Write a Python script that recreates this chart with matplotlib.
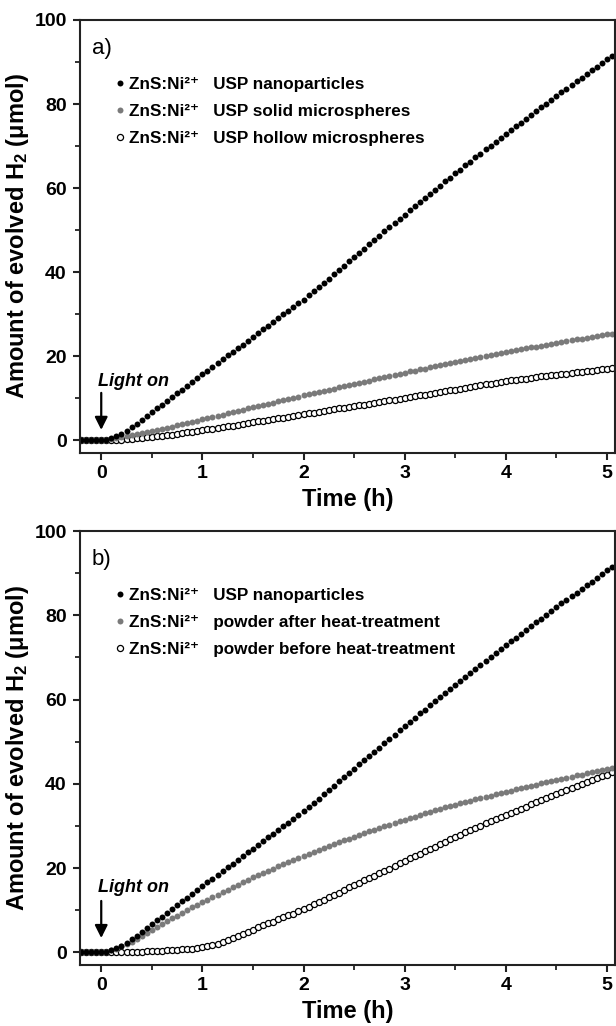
import numpy as np
import matplotlib
matplotlib.use("Agg")
import matplotlib.pyplot as plt
from matplotlib.ticker import MultipleLocator

plt.rcParams["font.family"] = ["Liberation Sans", "DejaVu Sans"]
plt.rcParams["mathtext.fontset"] = "custom"
plt.rcParams["mathtext.rm"] = "Liberation Sans:bold"
plt.rcParams["mathtext.bf"] = "Liberation Sans:bold"
plt.rcParams["mathtext.it"] = "Liberation Sans:bold:italic"

# sampling times (h), one point every 3 min
time_h = np.round(np.arange(-0.2, 5.051, 0.05), 2)

# H2 evolved (umol)
usp_nano = [
    0, 0, 0, 0, 0,
    0.2, 0.6, 1.1, 1.6, 2.2,
    3.1, 4.0, 4.9, 5.8, 6.7,
    7.6, 8.5, 9.4, 10.3, 11.2,
    12.1, 13.0, 13.9, 14.8, 15.7,
    16.6, 17.5, 18.4, 19.3, 20.2,
    21.0, 21.9, 22.8, 23.7, 24.6,
    25.5, 26.4, 27.3, 28.2, 29.1,
    30.0, 30.8, 31.7, 32.6, 33.5,
    34.5, 35.5, 36.5, 37.5, 38.5,
    39.6, 40.6, 41.6, 42.6, 43.6,
    44.6, 45.6, 46.6, 47.6, 48.6,
    49.7, 50.7, 51.7, 52.7, 53.7,
    54.7, 55.7, 56.7, 57.6, 58.6,
    59.6, 60.6, 61.6, 62.5, 63.5,
    64.4, 65.4, 66.3, 67.3, 68.2,
    69.2, 70.1, 71.0, 72.0, 72.9,
    73.8, 74.7, 75.6, 76.5, 77.4,
    78.3, 79.2, 80.1, 81.0, 81.9,
    82.8, 83.7, 84.5, 85.4, 86.3,
    87.2, 88.0, 88.9, 89.8, 90.7,
    91.5,
]
usp_solid = [
    0, 0, 0, 0, 0,
    0.1, 0.3, 0.5, 0.8, 1.0,
    1.3, 1.5, 1.7, 2.0, 2.2,
    2.5, 2.8, 3.0, 3.3, 3.6,
    3.9, 4.2, 4.4, 4.7, 5.0,
    5.3, 5.6, 5.9, 6.1, 6.4,
    6.7, 7.0, 7.3, 7.6, 7.9,
    8.1, 8.4, 8.7, 9.0, 9.3,
    9.6, 9.8, 10.1, 10.4, 10.7,
    11.0, 11.2, 11.5, 11.8, 12.1,
    12.3, 12.6, 12.9, 13.1, 13.4,
    13.7, 14.0, 14.2, 14.5, 14.8,
    15.0, 15.3, 15.6, 15.8, 16.1,
    16.4, 16.6, 16.9, 17.1, 17.4,
    17.6, 17.9, 18.1, 18.4, 18.6,
    18.9, 19.1, 19.4, 19.6, 19.8,
    20.1, 20.3, 20.5, 20.8, 21.0,
    21.2, 21.4, 21.7, 21.9, 22.1,
    22.3, 22.5, 22.7, 22.9, 23.1,
    23.4, 23.6, 23.8, 24.0, 24.2,
    24.4, 24.6, 24.8, 25.0, 25.2,
    25.4,
]
usp_hollow = [
    0, 0, 0, 0, 0,
    0.0, 0.1, 0.1, 0.2, 0.3,
    0.4, 0.5, 0.6, 0.7, 0.8,
    1.0, 1.1, 1.3, 1.4, 1.6,
    1.8, 1.9, 2.1, 2.2, 2.4,
    2.6, 2.8, 3.0, 3.2, 3.4,
    3.5, 3.7, 3.9, 4.1, 4.3,
    4.5, 4.7, 4.9, 5.1, 5.3,
    5.4, 5.6, 5.8, 6.0, 6.2,
    6.4, 6.6, 6.8, 7.0, 7.2,
    7.4, 7.6, 7.8, 8.0, 8.2,
    8.3, 8.5, 8.7, 8.9, 9.1,
    9.3, 9.5, 9.7, 9.9, 10.1,
    10.3, 10.5, 10.7, 10.9, 11.1,
    11.3, 11.5, 11.7, 11.9, 12.1,
    12.3, 12.5, 12.7, 12.9, 13.1,
    13.3, 13.5, 13.7, 13.9, 14.1,
    14.3, 14.4, 14.6, 14.7, 14.9,
    15.0, 15.2, 15.3, 15.5, 15.6,
    15.8, 15.9, 16.0, 16.2, 16.3,
    16.5, 16.6, 16.8, 16.9, 17.1,
    17.2,
]
powder_after = [
    0, 0, 0, 0, 0,
    0.2, 0.5, 0.9, 1.4, 1.9,
    2.5, 3.2, 3.9, 4.6, 5.3,
    6.0, 6.7, 7.4, 8.1, 8.7,
    9.4, 10.0, 10.7, 11.3, 11.9,
    12.5, 13.1, 13.7, 14.3, 14.9,
    15.5, 16.1, 16.7, 17.2, 17.8,
    18.3, 18.9, 19.4, 19.9, 20.4,
    20.9, 21.4, 21.9, 22.4, 22.9,
    23.4, 23.8, 24.3, 24.8, 25.2,
    25.7, 26.1, 26.6, 27.0, 27.4,
    27.9, 28.3, 28.7, 29.1, 29.5,
    29.9, 30.3, 30.7, 31.1, 31.5,
    31.9, 32.2, 32.6, 33.0, 33.3,
    33.7, 34.0, 34.4, 34.7, 35.0,
    35.4, 35.7, 36.0, 36.3, 36.6,
    36.9, 37.2, 37.5, 37.8, 38.1,
    38.4, 38.7, 39.0, 39.3, 39.6,
    39.8, 40.1, 40.4, 40.6, 40.9,
    41.2, 41.4, 41.7, 42.0, 42.2,
    42.5, 42.8, 43.0, 43.3, 43.6,
    43.8,
]
powder_before = [
    0, 0, 0, 0, 0,
    0.0, 0.0, 0.1, 0.1, 0.1,
    0.2, 0.2, 0.2, 0.3, 0.3,
    0.4, 0.4, 0.5, 0.5, 0.6,
    0.7, 0.8, 0.9, 1.1, 1.3,
    1.5, 1.8, 2.1, 2.5, 2.9,
    3.4, 3.9, 4.4, 4.9, 5.4,
    5.9, 6.4, 6.9, 7.3, 7.8,
    8.3, 8.8, 9.2, 9.7, 10.2,
    10.8, 11.4, 11.9, 12.5, 13.1,
    13.6, 14.2, 14.8, 15.4, 15.9,
    16.5, 17.1, 17.6, 18.2, 18.8,
    19.4, 19.9, 20.5, 21.1, 21.7,
    22.3, 22.9, 23.4, 24.0, 24.6,
    25.1, 25.7, 26.3, 26.8, 27.4,
    27.9, 28.5, 29.0, 29.5, 30.0,
    30.6, 31.1, 31.6, 32.1, 32.6,
    33.1, 33.6, 34.1, 34.6, 35.1,
    35.6, 36.1, 36.6, 37.1, 37.6,
    38.1, 38.6, 39.0, 39.5, 40.0,
    40.4, 40.9, 41.3, 41.8, 42.2,
    42.7,
]

labels_a = ["USP nanoparticles", "USP solid microspheres", "USP hollow microspheres"]
labels_b = ["USP nanoparticles", "powder after heat-treatment", "powder before heat-treatment"]

GRAY = "#7a7a7a"


def draw_panel(ax, black, gray, hollow, names, tag, light_y, arrow_top, arrow_tip):
    # hollow first so the filled dots sit on top
    h3, = ax.plot(time_h, hollow, "o", ms=4.4, mfc="white", mec="black", mew=0.9,
                  linestyle="None")
    h2, = ax.plot(time_h, gray, "o", ms=4.3, mfc=GRAY, mec=GRAY, mew=0,
                  linestyle="None")
    h1, = ax.plot(time_h, black, "o", ms=4.3, mfc="black", mec="black", mew=0,
                  linestyle="None")

    labs = ["ZnS:Ni²⁺   " + n for n in names]
    ax.legend([h1, h2, h3], labs, loc="upper left", bbox_to_anchor=(0.066, 0.868),
              frameon=False, borderpad=0, borderaxespad=0,
              handlelength=0.5, handletextpad=0.3, labelspacing=0.70,
              prop={"weight": "bold", "size": 12.3})

    ax.set_xlim(-0.21, 5.08)
    ax.set_ylim(-3, 100)
    ax.xaxis.set_major_locator(MultipleLocator(1))
    ax.xaxis.set_minor_locator(MultipleLocator(0.5))
    ax.yaxis.set_major_locator(MultipleLocator(20))
    ax.yaxis.set_minor_locator(MultipleLocator(10))
    ax.tick_params(which="major", direction="out", length=5, width=1.5,
                   labelsize=14, color="#222222")
    ax.tick_params(which="minor", direction="out", length=3.5, width=1.3,
                   color="#222222")
    ax.tick_params(axis="x", pad=3.5)
    ax.tick_params(axis="y", pad=4.5)
    for lab in ax.get_xticklabels() + ax.get_yticklabels():
        lab.set_fontweight("bold")
    for sp in ax.spines.values():
        sp.set_linewidth(1.5)
        sp.set_color("#222222")

    ax.set_xlabel("Time (h)", fontsize=17, fontweight="bold")
    ax.xaxis.set_label_coords(0.5, -0.08)
    ax.set_ylabel("Amount of evolved H$_{2}$ (μmol)", fontsize=17, fontweight="bold")
    ax.yaxis.set_label_coords(-0.092, 0.5)

    ax.text(0.022, 0.935, tag, transform=ax.transAxes, fontsize=16,
            fontweight="normal", ha="left", va="center")
    ax.text(-0.035, light_y, "Light on", fontsize=13, fontweight="bold",
            fontstyle="italic", ha="left", va="center")
    ax.annotate("", xy=(0, arrow_tip), xytext=(0, arrow_top),
                arrowprops=dict(arrowstyle="-|>", color="black", lw=1.6,
                                mutation_scale=19, shrinkA=0, shrinkB=0))


fig = plt.figure(figsize=(6.16, 10.26), dpi=100)
ax_a = fig.add_axes([80 / 616, 1 - 453 / 1026, 535 / 616, 433 / 1026])
ax_b = fig.add_axes([80 / 616, 1 - 965 / 1026, 535 / 616, 434 / 1026])

draw_panel(ax_a, usp_nano, usp_solid, usp_hollow, labels_a, "a)", 14.1, 11.3, 2.5)
draw_panel(ax_b, usp_nano, powder_after, powder_before, labels_b, "b)", 15.3, 12.2, 3.4)

fig.savefig("out.png", dpi=100)
